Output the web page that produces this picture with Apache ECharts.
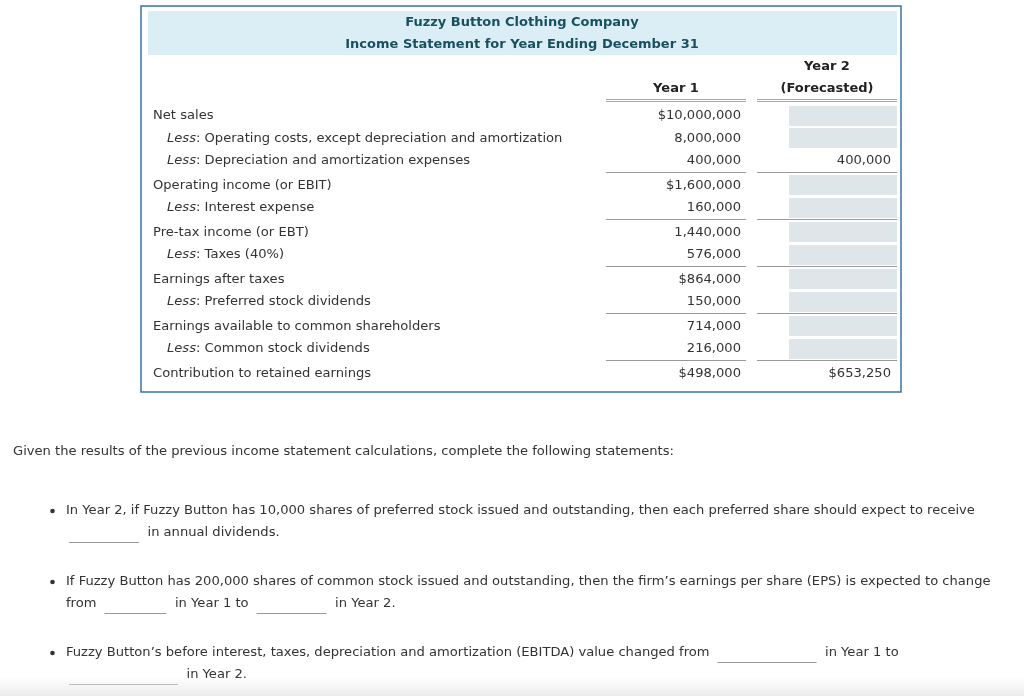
<!DOCTYPE html>
<html><head><meta charset="utf-8">
<script src="https://cdn.jsdelivr.net/npm/echarts@6/dist/echarts.min.js"></script>
<style>html,body{margin:0;padding:0;background:#fff}#c{width:1024px;height:696px}</style>
</head><body><div id="c"></div>
<script>
// ---- data ----
const titleLines = ['Fuzzy Button Clothing Company', 'Income Statement for Year Ending December 31'];
const year1Header = 'Year 1';
const year2Header = ['Year 2', '(Forecasted)'];
const rowLabels = [
  'Net sales',
  '{i|Less}: Operating costs, except depreciation and amortization',
  '{i|Less}: Depreciation and amortization expenses',
  'Operating income (or EBIT)',
  '{i|Less}: Interest expense',
  'Pre-tax income (or EBT)',
  '{i|Less}: Taxes (40%)',
  'Earnings after taxes',
  '{i|Less}: Preferred stock dividends',
  'Earnings available to common shareholders',
  '{i|Less}: Common stock dividends',
  'Contribution to retained earnings'
];
const rowIndent = [0, 1, 1, 0, 1, 0, 1, 0, 1, 0, 1, 0];
const ruleAbove = [0, 0, 0, 1, 0, 1, 0, 1, 0, 1, 0, 1];
const year1Values = [10000000, 8000000, 400000, 1600000, 160000, 1440000, 576000, 864000, 150000, 714000, 216000, 498000];
const year1Dollar = [1, 0, 0, 1, 0, 0, 0, 1, 0, 0, 0, 1];
const year2Values = [null, null, 400000, null, null, null, null, null, null, null, null, 653250];
const year2Dollar = [0, 0, 0, 0, 0, 0, 0, 0, 0, 0, 0, 1];
const introText = 'Given the results of the previous income statement calculations, complete the following statements:';
const questions = [
  [['In Year 2, if Fuzzy Button has 10,000 shares of preferred stock issued and outstanding, then each preferred share should expect to receive'],
   ['_', 'in annual dividends.']],
  [['If Fuzzy Button has 200,000 shares of common stock issued and outstanding, then the firm\u2019s earnings per share (EPS) is expected to change'],
   ['from', '_', 'in Year 1 to', '_', 'in Year 2.']],
  [['Fuzzy Button\u2019s before interest, taxes, depreciation and amortization (EBITDA) value changed from', '_', 'in Year 1 to'],
   ['_', 'in Year 2.']]
];
const blankWidths = [[[], [70]], [[], [62, 70]], [[99], [109]]];

// ---- layout ----
const FONT = 'Verdana, "DejaVu Sans", sans-serif';
const FS = 13.1;
const TXT = '#333';
const HEAD = '#17505f';
const DY = 1;
const fmt = (v, d) => (d ? '$' : '') + v.toLocaleString('en-US');

const g = [];
function text(x, y, s, opt) {
  opt = opt || {};
  g.push({
    type: 'text', x: x, y: y + DY, silent: true,
    style: Object.assign({
      text: s, fill: TXT, font: FS + 'px ' + FONT, textAlign: 'left', textVerticalAlign: 'middle'
    }, opt)
  });
}
function line(x1, y1, x2, y2, color, w) {
  g.push({ type: 'line', silent: true, shape: { x1: x1, y1: y1, x2: x2, y2: y2 },
    style: { stroke: color, lineWidth: w || 1 } });
}
function rect(x, y, w, h, style) {
  g.push({ type: 'rect', silent: true, shape: { x: x, y: y, width: w, height: h }, style: style });
}
const ctx = document.createElement('canvas').getContext('2d');
function measure(s) {
  ctx.font = FS + 'px ' + FONT;
  return ctx.measureText(s).width;
}

// outer box and header band
rect(141, 6, 760, 386, { fill: '#fff', stroke: '#3b74a6', lineWidth: 1.5 });
rect(148, 11, 749, 44, { fill: '#dbeef5' });
text(522, 22, titleLines[0], { textAlign: 'center', fill: HEAD, font: 'bold 13px ' + FONT });
text(522, 44, titleLines[1], { textAlign: 'center', fill: HEAD, font: 'bold 13px ' + FONT });

// column headers
const c1L = 606, c1R = 746, c2L = 757, c2R = 897;
text((c1L + c1R) / 2, 88, year1Header, { textAlign: 'center', fill: '#222', font: 'bold 13px ' + FONT });
text((c2L + c2R) / 2, 66, year2Header[0], { textAlign: 'center', fill: '#222', font: 'bold 13px ' + FONT });
text((c2L + c2R) / 2, 88, year2Header[1], { textAlign: 'center', fill: '#222', font: 'bold 13px ' + FONT });
[99.5, 101.5].forEach(function (yy) {
  line(c1L, yy, c1R, yy, '#aaa', 1);
  line(c2L, yy, c2R, yy, '#aaa', 1);
});

// rows
let y = 115;
rowLabels.forEach(function (lab, i) {
  if (i > 0) y += ruleAbove[i] ? 24.6 : 22.4;
  if (ruleAbove[i]) {
    const ry = Math.round(y - 12.5) + 0.5;
    line(c1L, ry, c1R, ry, '#999', 1);
    line(c2L, ry, c2R, ry, '#999', 1);
  }
  text(rowIndent[i] ? 167 : 153, y, lab, {
    rich: { i: { fontStyle: 'italic', fontSize: FS, fontFamily: FONT, fill: TXT } }
  });
  text(741, y, fmt(year1Values[i], year1Dollar[i]), { textAlign: 'right' });
  if (year2Values[i] == null) {
    rect(789, Math.round(y) - 9, 108, 20, { fill: '#dfe6e9' });
  } else {
    text(891, y, fmt(year2Values[i], year2Dollar[i]), { textAlign: 'right' });
  }
});

// questions
text(13, 451, introText);
const qY = [510, 581, 652];
questions.forEach(function (q, qi) {
  g.push({ type: 'circle', silent: true, shape: { cx: 52.5, cy: qY[qi] + DY, r: 2.3 }, style: { fill: '#333' } });
  q.forEach(function (lineParts, li) {
    const yy = qY[qi] + li * 22;
    let x = 66;
    let b = 0;
    lineParts.forEach(function (part, pi) {
      if (part === '_') {
        const w = blankWidths[qi][li][b++];
        x += (pi > 0 ? 8 : 3);
        const ly = Math.round(yy + 10) + 0.5;
        line(x, ly, x + w, ly, '#999', 1);
        x += w + 8.5;
      } else {
        text(x, yy, part);
        x += measure(part);
      }
    });
  });
});

// bottom shading
rect(0, 676, 1024, 20, { fill: new echarts.graphic.LinearGradient(0, 0, 0, 1, [
  { offset: 0, color: 'rgba(240,240,240,0)' }, { offset: 1, color: '#ececec' }]) });

const chart = echarts.init(document.getElementById('c'), null, { renderer: 'canvas' });
chart.setOption({ animation: false, graphic: { elements: g } });
</script>
</body></html>
